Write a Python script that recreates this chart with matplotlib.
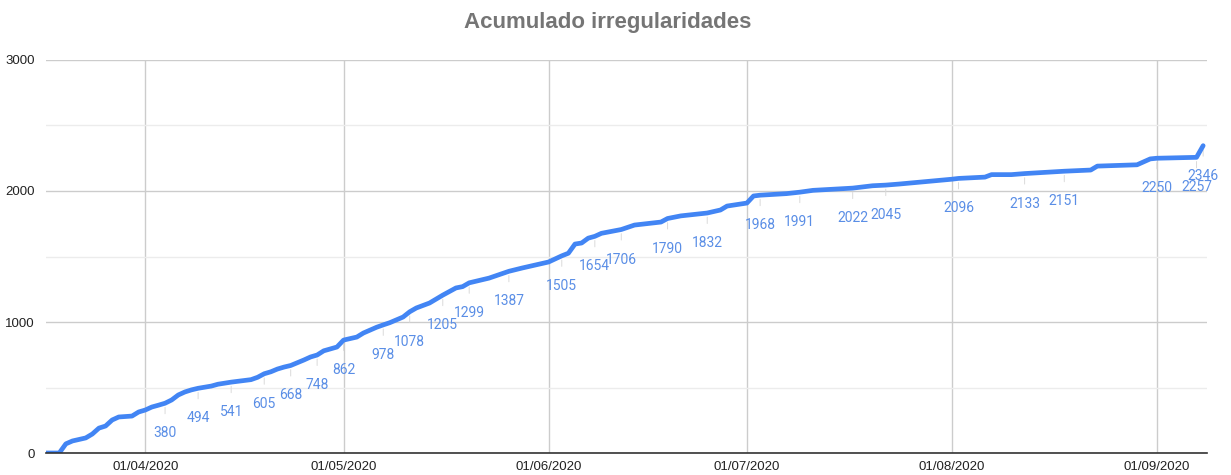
import numpy as np
import pandas as pd
import matplotlib
matplotlib.use("Agg")
import matplotlib.pyplot as plt
import matplotlib.dates as mdates

# leitura aproximada do gráfico (acumulado diário)
datas = [
    "2020-03-17", "2020-03-19", "2020-03-20", "2020-03-21", "2020-03-23", "2020-03-24",
    "2020-03-25", "2020-03-26", "2020-03-27", "2020-03-28", "2020-03-30", "2020-03-31",
    "2020-04-01", "2020-04-02", "2020-04-03", "2020-04-04", "2020-04-05", "2020-04-06",
    "2020-04-07", "2020-04-08", "2020-04-09", "2020-04-11", "2020-04-12", "2020-04-14",
    "2020-04-17", "2020-04-18", "2020-04-19", "2020-04-20", "2020-04-21", "2020-04-22",
    "2020-04-23", "2020-04-25", "2020-04-26", "2020-04-27", "2020-04-28", "2020-04-30",
    "2020-05-01", "2020-05-03", "2020-05-04", "2020-05-06", "2020-05-07", "2020-05-08",
    "2020-05-10", "2020-05-11", "2020-05-12", "2020-05-14", "2020-05-15", "2020-05-16",
    "2020-05-18", "2020-05-19", "2020-05-20", "2020-05-23", "2020-05-26", "2020-05-28",
    "2020-06-01", "2020-06-03", "2020-06-04", "2020-06-05", "2020-06-06", "2020-06-07",
    "2020-06-08", "2020-06-09", "2020-06-12", "2020-06-14", "2020-06-18", "2020-06-19",
    "2020-06-21", "2020-06-25", "2020-06-27", "2020-06-28", "2020-07-01", "2020-07-02",
    "2020-07-03", "2020-07-07", "2020-07-09", "2020-07-11", "2020-07-17", "2020-07-20",
    "2020-07-22", "2020-07-24", "2020-08-01", "2020-08-02", "2020-08-06", "2020-08-07",
    "2020-08-10", "2020-08-12", "2020-08-18", "2020-08-22", "2020-08-23", "2020-08-29",
    "2020-08-31", "2020-09-01", "2020-09-07", "2020-09-08",
]
valores = [
    0, 0, 70, 92, 115, 145,
    190, 206, 252, 275, 282, 313,
    328, 351, 365, 380, 405, 443,
    466, 482, 494, 511, 525, 541,
    560, 578, 605, 620, 641, 656,
    668, 710, 733, 748, 780, 809,
    862, 885, 916, 960, 978, 995,
    1038, 1078, 1107, 1145, 1175, 1205,
    1260, 1270, 1299, 1335, 1387, 1412,
    1458, 1505, 1525, 1595, 1603, 1640,
    1654, 1677, 1706, 1740, 1763, 1790,
    1810, 1832, 1855, 1885, 1908, 1962,
    1968, 1980, 1991, 2005, 2022, 2040,
    2045, 2053, 2090, 2096, 2106, 2125,
    2125, 2133, 2151, 2160, 2190, 2200,
    2245, 2250, 2257, 2346,
]
# valores com rótulo no gráfico
rotulos = [380, 494, 541, 605, 668, 748, 862, 978, 1078, 1205, 1299, 1387, 1505,
           1654, 1706, 1790, 1832, 1968, 1991, 2022, 2045, 2096, 2133, 2151,
           2250, 2257, 2346]

datas = pd.to_datetime(datas)

azul = "#4285f4"
azul_rot = "#5a8ee6"

fig = plt.figure(figsize=(12.31, 4.75), dpi=100)
ax = fig.add_axes([0.0374, 0.0463, 0.9431, 0.8274])

ax.plot(datas, valores, color=azul, lw=3.4, solid_joinstyle="round",
        solid_capstyle="round", zorder=4)

for d, v in zip(datas, valores):
    if v in rotulos:
        ax.annotate(str(v), xy=(d, v), xytext=(0, -30), textcoords="offset pixels",
                    ha="center", va="center", fontsize=10, color=azul_rot,
                    family="Roboto", annotation_clip=False, zorder=2,
                    arrowprops=dict(arrowstyle="-", color="#dadada", lw=0.7,
                                    shrinkA=7, shrinkB=3))

ax.set_xlim(pd.Timestamp("2020-03-17"), pd.Timestamp("2020-09-08 14:00"))
ax.set_ylim(0, 3000)

ax.xaxis.set_major_locator(mdates.MonthLocator(bymonth=[4, 5, 6, 7, 8, 9]))
ax.xaxis.set_major_formatter(mdates.DateFormatter("%d/%m/%Y"))
ax.set_yticks([0, 1000, 2000, 3000])
ax.set_yticks([500, 1500, 2500], minor=True)

ax.grid(True, which="major", color="#cccccc", lw=1.0, zorder=0)
ax.grid(True, which="minor", axis="y", color="#ececec", lw=1.0, zorder=0)
ax.set_axisbelow(True)

for s in ["top", "right", "left"]:
    ax.spines[s].set_visible(False)
ax.spines["bottom"].set_color("#333333")
ax.spines["bottom"].set_linewidth(1.2)
ax.spines["bottom"].set_zorder(5)

ax.tick_params(axis="both", which="both", length=0, labelsize=9.5,
               labelcolor="#222222")
ax.tick_params(axis="x", pad=6)
ax.tick_params(axis="y", pad=8)
for lab in ax.get_xticklabels() + ax.get_yticklabels():
    lab.set_family("Liberation Sans")

fig.text(0.494, 0.953, "Acumulado irregularidades", ha="center", va="center",
         fontsize=16, fontweight="bold", color="#757575", family="Liberation Sans")

fig.savefig("out.png", dpi=100, facecolor="white")
